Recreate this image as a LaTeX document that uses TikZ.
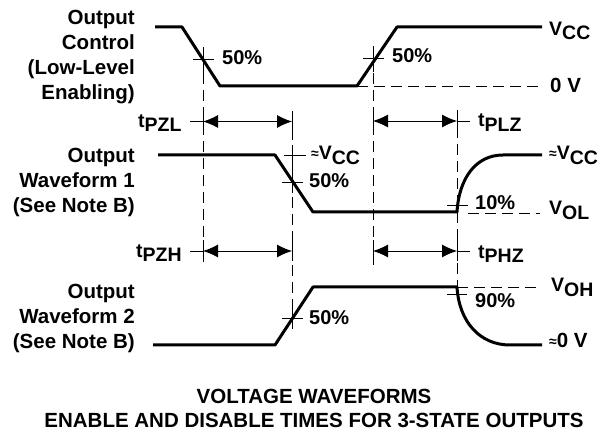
\documentclass[tikz,border=0pt]{standalone}
\usepackage{fontspec}
\setmainfont{Liberation Sans}
\usetikzlibrary{arrows.meta}
\newcommand\bigfont{\fontsize{20.5}{25.3}\selectfont\bfseries}
\newcommand\midfont{\fontsize{20}{22}\selectfont\bfseries}
\newcommand\symb[2]{{\fontsize{19.5}{21}\selectfont\bfseries #1\raisebox{-4.5pt}{#2}}}
\newcommand\approxsym{{\fontsize{14}{16}\selectfont\bfseries\raisebox{1pt}{≈}}}
\begin{document}
\begin{tikzpicture}[x=1pt,y=-1pt,
  wave/.style={line width=3pt,line join=round},
  guide/.style={line width=0.9pt,dash pattern=on 11pt off 6pt},
  thin/.style={line width=0.9pt},
  dim/.style={line width=0.9pt,{Latex[length=15pt,width=13pt]}-{Latex[length=15pt,width=13pt]}},
  leftlbl/.style={anchor=north east,align=right,inner sep=0pt,font=\bigfont},
  rlbl/.style={anchor=base west,inner sep=0pt},
  title/.style={anchor=base,inner sep=0pt,font=\bigfont}]
\useasboundingbox (0,0) rectangle (613,435);

% ---- left labels
\node[leftlbl] (lc) at (135,9.5) {Output\\Control\\(Low-Level\\Enabling)};
\node[leftlbl] (lw1) at (135,147.5) {Output\\Waveform 1\\(See Note B)};
\node[leftlbl] (lw2) at (135,283.5) {Output\\Waveform 2\\(See Note B)};

% ---- key coordinates
\coordinate (c0) at (155,27);
\coordinate (c1) at (182,27);
\coordinate (c2) at (220,86);
\coordinate (c3) at (357,86);
\coordinate (c4) at (397,27);
\coordinate (c5) at (542,27);

% output control waveform
\draw[wave] (c0) -- (c1) -- (c2) -- (c3) -- (c4) -- (c5);
\draw[guide] (c3) -- (542,86);

% waveform 1
\coordinate (a0) at (158,155);
\coordinate (a1) at (275,155);
\coordinate (a2) at (313,212);
\coordinate (a3) at (457,212);
\coordinate (a4) at (503,155);
\coordinate (a5) at (542,155);
\draw[wave] (a0) -- (a1) -- (a2) -- (a3) .. controls (459,178) and (476,155) .. (a4) -- (a5);
\draw[guide] (468,213) -- (540,213);

% waveform 2
\coordinate (b0) at (153,345);
\coordinate (b1) at (275,345);
\coordinate (b2) at (313,287);
\coordinate (b3) at (457,287);
\coordinate (b4) at (510,345);
\coordinate (b5) at (542,345);
\draw[wave] (b0) -- (b1) -- (b2) -- (b3) .. controls (459,322) and (480,345) .. (b4) -- (b5);
\draw[guide] (b3) -- (540,287);

% vertical guides
\draw[guide] (203,73) -- (203,262);
\draw[guide] (373,73) -- (373,265);
\draw[guide] (292,112) -- (292,318);
\draw[guide] (457,110) -- (457,287);

% crosshairs
\draw[thin] (193,59) -- (214,59) (203,47) -- (203,73);
\draw[thin] (363,58) -- (384,58) (373,46) -- (373,72);
\draw[thin] (282,182) -- (303,182) (292,171) -- (292,193);
\draw[thin] (284,155) -- (306,155) (292,145) -- (292,164);
\draw[thin] (282,318) -- (303,318) (292,307) -- (292,329);
\draw[thin] (447,205) -- (468,205) (457,200) -- (457,222);
\draw[thin] (447,294) -- (467,294);

% time arrows
\draw[thin] (190,121.5) -- (203,121.5) (203,111) -- (203,132) (292,111) -- (292,132);
\draw[dim] (203,121.5) -- (292,121.5);
\draw[thin] (457,121) -- (470,121) (373,110) -- (373,131) (457,110) -- (457,131);
\draw[dim] (373,121) -- (457,121);
\draw[thin] (190,251) -- (203,251) (203,240) -- (203,261) (292,240) -- (292,261);
\draw[dim] (203,251) -- (292,251);
\draw[thin] (457,251) -- (470,251) (373,240) -- (373,261) (457,240) -- (457,261);
\draw[dim] (373,251) -- (457,251);

% percent labels
\node[rlbl,font=\midfont] (p1) at (222,65) {50\%};
\node[rlbl,font=\midfont] (p2) at (392,63) {50\%};
\node[rlbl,font=\midfont] (p3) at (309,188) {50\%};
\node[rlbl,font=\midfont] (p4) at (309,325) {50\%};
\node[rlbl,font=\midfont] (p5) at (475,210) {10\%};
\node[rlbl,font=\midfont] (p6) at (475,308) {90\%};

% timing labels
\node[rlbl] (tpzl) at (138,127.5) {\symb{t}{PZL}};
\node[rlbl] (tpzh) at (136,257.5) {\symb{t}{PZH}};
\node[rlbl] (tplz) at (478,127) {\symb{t}{PLZ}};
\node[rlbl] (tphz) at (478,258.5) {\symb{t}{PHZ}};

% level labels
\node[rlbl] (vcc) at (549,35.5) {\symb{V}{CC}};
\node[rlbl,font=\bigfont] (zv) at (550,93) {0 V};
\node[rlbl] (avcc1) at (311,160) {\approxsym\symb{V}{CC}};
\node[rlbl] (avcc2) at (549,160) {\approxsym\symb{V}{CC}};
\node[rlbl] (vol) at (549,215) {\symb{V}{OL}};
\node[rlbl] (voh) at (551,292) {\symb{V}{OH}};
\node[rlbl,font=\bigfont] (azv) at (549,348) {\approxsym0 V};

% title
\node[title] (t1) at (314,403) {VOLTAGE WAVEFORMS};
\node[title] (t2) at (314,428) {ENABLE AND DISABLE TIMES FOR 3-STATE OUTPUTS};
\end{tikzpicture}
\end{document}
